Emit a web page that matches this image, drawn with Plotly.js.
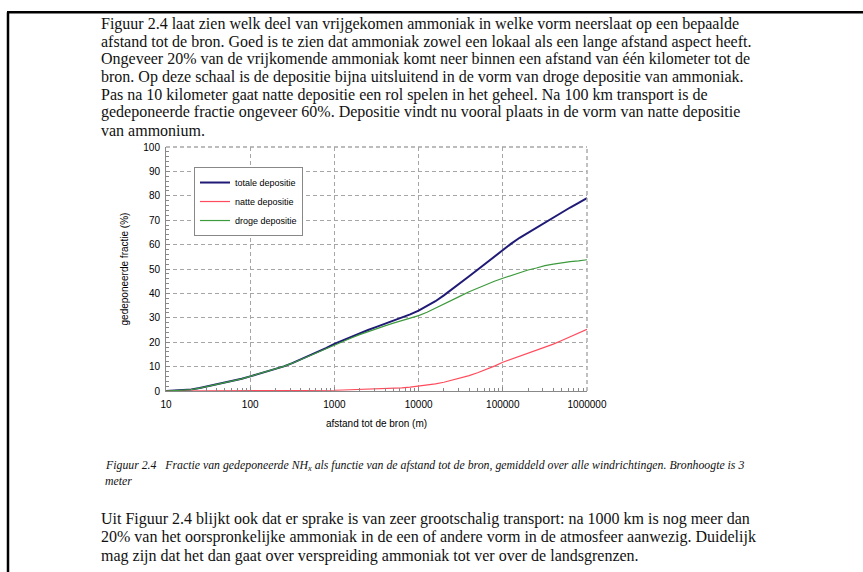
<!DOCTYPE html>
<html>
<head>
<meta charset="utf-8">
<script src="https://cdn.plot.ly/plotly-3.0.1.min.js"></script>
<style>html,body{margin:0;padding:0;background:#fff;}#chart{width:863px;height:572px;}</style>
</head>
<body>
<div id="chart"></div>
<script>
// Distance to source (m)
const distance = [10, 12.6, 15.8, 20, 25.1, 31.6, 39.8, 50.1, 63.1, 79.4,
  100, 126, 158, 200, 251, 316, 398, 501, 631, 794,
  1000, 1259, 1585, 1995, 2512, 3162, 3981, 5012, 6310, 7943,
  10000, 12589, 15849, 19953, 25119, 31623, 39811, 50119, 63096, 79433,
  100000, 125893, 158489, 199526, 251189, 316228, 398107, 501187, 630957, 794328,
  1000000];
// totale depositie (%)
const totaleDepositie = [0, 0.1, 0.3, 0.6, 1.2, 1.9, 2.6, 3.3, 4.1, 5.0,
  6.0, 7.0, 8.0, 9.0, 10.1, 11.4, 12.9, 14.5, 16.0, 17.6,
  19.3, 20.8, 22.2, 23.6, 25.0, 26.3, 27.5, 28.8, 30.1, 31.4,
  32.9, 34.7, 36.8, 39.2, 41.7, 44.3, 47.0, 49.7, 52.4, 55.2,
  58.0, 60.4, 62.8, 64.9, 66.9, 69.2, 71.2, 73.3, 75.2, 77.1,
  79.1];
// natte depositie (%)
const natteDepositie = [0, 0, 0, 0, 0, 0, 0, 0, 0, 0,
  0, 0, 0, 0, 0, 0, 0, 0.1, 0.1, 0.2,
  0.3, 0.4, 0.5, 0.5, 0.6, 0.7, 0.8, 1.0, 1.3, 1.6,
  2.0, 2.4, 2.9, 3.6, 4.4, 5.3, 6.3, 7.5, 8.8, 10.2,
  11.8, 13.0, 14.2, 15.3, 16.5, 17.8, 19.2, 20.7, 22.2, 23.8,
  25.3];
// droge depositie (%)
const drogeDepositie = [0, 0.1, 0.3, 0.6, 1.2, 1.9, 2.6, 3.3, 4.1, 5.0,
  6.0, 7.0, 8.0, 9.0, 10.1, 11.4, 12.9, 14.4, 15.9, 17.4,
  19.0, 20.4, 21.7, 23.1, 24.4, 25.6, 26.7, 27.8, 28.8, 29.8,
  30.9, 32.3, 33.9, 35.6, 37.3, 39.0, 40.7, 42.2, 43.6, 45.0,
  46.2, 47.4, 48.6, 49.6, 50.4, 51.4, 52.0, 52.6, 53.0, 53.3,
  53.8];
const seriesNames = ["totale depositie", "natte depositie", "droge depositie"];

const introLines = [
  "Figuur 2.4 laat zien welk deel van vrijgekomen ammoniak in welke vorm neerslaat op een bepaalde",
  "afstand tot de bron. Goed is te zien dat ammoniak zowel een lokaal als een lange afstand aspect heeft.",
  "Ongeveer 20% van de vrijkomende ammoniak komt neer binnen een afstand van één kilometer tot de",
  "bron. Op deze schaal is de depositie bijna uitsluitend in de vorm van droge depositie van ammoniak.",
  "Pas na 10 kilometer gaat natte depositie een rol spelen in het geheel. Na 100 km transport is de",
  "gedeponeerde fractie ongeveer 60%. Depositie vindt nu vooral plaats in de vorm van natte depositie",
  "van ammonium."
];
const captionLines = [
  "Figuur 2.4   Fractie van gedeponeerde NH<sub>x</sub> als functie van de afstand tot de bron, gemiddeld over alle windrichtingen. Bronhoogte is 3",
  "meter"
];
const outroLines = [
  "Uit Figuur 2.4 blijkt ook dat er sprake is van zeer grootschalig transport: na 1000 km is nog meer dan",
  "20% van het oorspronkelijke ammoniak in de een of andere vorm in de atmosfeer aanwezig. Duidelijk",
  "mag zijn dat het dan gaat over verspreiding ammoniak tot ver over de landsgrenzen."
];

const W = 863, H = 572, L = 166, R = 587, T = 147, B = 390.7;
const px = x => (x - L) / (R - L);
const py = y => (B - y) / (B - T);

const traces = [
  {x: distance, y: totaleDepositie, name: seriesNames[0], mode: 'lines', line: {color: '#1f1a75', width: 2}},
  {x: distance, y: natteDepositie, name: seriesNames[1], mode: 'lines', line: {color: '#ff4b5c', width: 1.2}},
  {x: distance, y: drogeDepositie, name: seriesNames[2], mode: 'lines', line: {color: '#3d9a3d', width: 1.2}}
];

const annotations = [];
const serif = 'Liberation Serif, Times New Roman, serif';
introLines.forEach((t, i) => annotations.push({
  text: t, xref: 'paper', yref: 'paper', x: px(99), y: py(24 + i * 17.7),
  xanchor: 'left', yanchor: 'middle', showarrow: false,
  font: {family: serif, size: 16, color: '#111'}
}));
captionLines.forEach((t, i) => annotations.push({
  text: '<i>' + t + '</i>', xref: 'paper', yref: 'paper', x: px(103), y: py(465 + i * 16),
  xanchor: 'left', yanchor: 'middle', showarrow: false,
  font: {family: serif, size: 11.8, color: '#111'}
}));
outroLines.forEach((t, i) => annotations.push({
  text: t, xref: 'paper', yref: 'paper', x: px(99), y: py(519 + i * 18),
  xanchor: 'left', yanchor: 'middle', showarrow: false,
  font: {family: serif, size: 16, color: '#111'}
}));

const gridDash = '4px,3px';
const gridColor = '#a6a6a6';
const shapes = [
  {type: 'line', xref: 'paper', yref: 'paper', x0: px(7), x1: px(863), y0: py(12.5), y1: py(12.5), line: {color: '#000', width: 2.5}},
  {type: 'line', xref: 'paper', yref: 'paper', x0: px(8), x1: px(8), y0: py(12.5), y1: py(572), line: {color: '#000', width: 2.5}},
  // dashed plot frame on top and right
  {type: 'line', xref: 'paper', yref: 'paper', x0: 0, x1: 1, y0: 1, y1: 1, line: {color: gridColor, width: 1.4, dash: gridDash}},
  {type: 'line', xref: 'paper', yref: 'paper', x0: 1, x1: 1, y0: 0, y1: 1, line: {color: gridColor, width: 1.4, dash: gridDash}}
];

const sans = 'Liberation Sans, Arial, sans-serif';
const layout = {
  width: W, height: H,
  margin: {l: L, r: W - R, t: T, b: H - B},
  paper_bgcolor: '#fff', plot_bgcolor: '#fff',
  showlegend: true,
  legend: {x: px(194), y: py(167), xanchor: 'left', yanchor: 'top',
    bgcolor: '#fff', bordercolor: '#888', borderwidth: 1,
    font: {family: sans, size: 9, color: '#000'}, tracegroupgap: 0, itemwidth: 30},
  xaxis: {
    type: 'log', range: [1, 6],
    tickmode: 'linear', tick0: 0, dtick: 1, tickformat: 'd',
    showgrid: true, gridcolor: gridColor, griddash: gridDash, gridwidth: 1,
    showline: true, linecolor: '#888', linewidth: 1,
    ticks: 'inside', ticklen: 4, tickcolor: '#888',
    minor: {ticks: 'inside', ticklen: 3, tickcolor: '#888', dtick: 'D1', showgrid: false},
    zeroline: false,
    ticklabelstandoff: 4,
    tickfont: {family: sans, size: 10, color: '#000'},
    title: {text: 'afstand tot de bron (m)', font: {family: sans, size: 10, color: '#000'}, standoff: 10},
    automargin: true
  },
  yaxis: {
    range: [0, 100], dtick: 10,
    showgrid: true, gridcolor: gridColor, griddash: gridDash, gridwidth: 1,
    showline: true, linecolor: '#888', linewidth: 1,
    ticks: 'inside', ticklen: 4, tickcolor: '#888',
    minor: {ticks: 'inside', ticklen: 2.5, tickcolor: '#888', dtick: 2, showgrid: false},
    zeroline: false,
    ticklabelstandoff: 3,
    tickfont: {family: sans, size: 10, color: '#000'},
    title: {text: 'gedeponeerde fractie (%)', font: {family: sans, size: 10, color: '#000'}, standoff: 12},
    automargin: true
  },
  annotations: annotations,
  shapes: shapes
};

Plotly.newPlot('chart', traces, layout, {displayModeBar: false, staticPlot: true});
</script>
</body>
</html>
